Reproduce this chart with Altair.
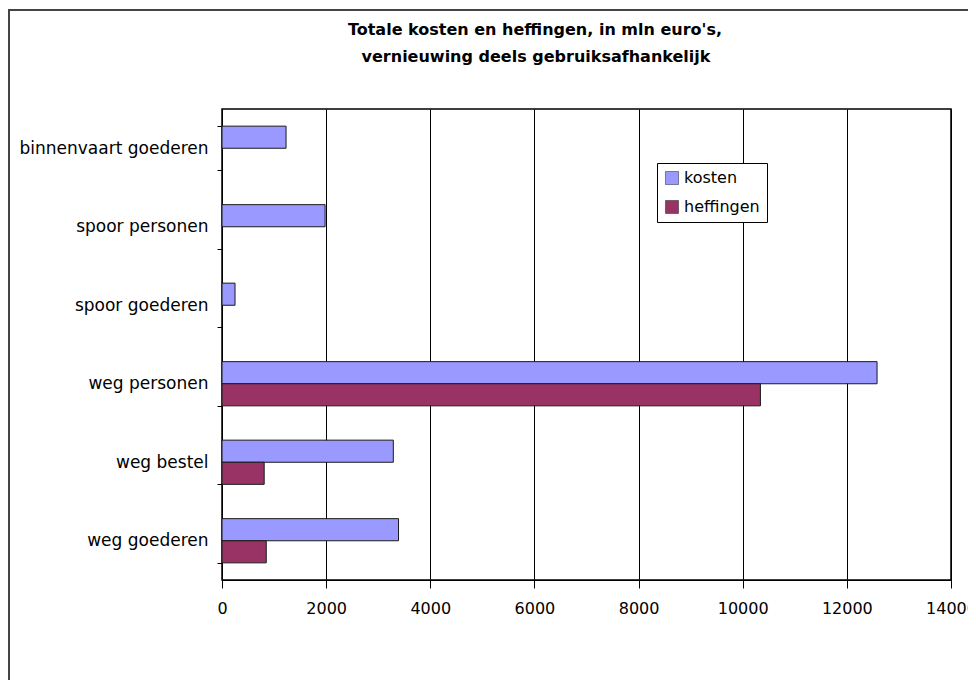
import altair as alt
import pandas as pd

# ---- data ----
categories = ["binnenvaart goederen", "spoor personen", "spoor goederen",
              "weg personen", "weg bestel", "weg goederen"]
series = ["kosten", "heffingen"]
kosten = [1230, 1980, 250, 12580, 3290, 3390]
heffingen = [None, None, None, 10340, 810, 850]
colors = ["#9999FF", "#993366"]
x_ticks = [0, 2000, 4000, 6000, 8000, 10000, 12000, 14000]
title_lines = ["Totale kosten en heffingen, in mln euro's,",
               "vernieuwing deels gebruiksafhankelijk"]

rows = []
for c, k, h in zip(categories, kosten, heffingen):
    rows.append({"categorie": c, "reeks": "kosten", "waarde": k})
    if h is not None:
        rows.append({"categorie": c, "reeks": "heffingen", "waarde": h})
df = pd.DataFrame(rows)

FONT = "DejaVu Sans"
one = pd.DataFrame({"a": [0]})

bars = alt.Chart(df).mark_bar(stroke="#1a1a1a", strokeWidth=1).encode(
    y=alt.Y("categorie:N", sort=categories,
            scale=alt.Scale(paddingInner=0.437, paddingOuter=0.2185),
            axis=alt.Axis(title=None, tickBand="extent", tickSize=5,
                          tickColor="black", domainColor="black",
                          labelFontSize=17, labelFont=FONT, labelColor="black",
                          labelPadding=9, labelLimit=260, grid=False)),
    x=alt.X("waarde:Q", scale=alt.Scale(domain=[0, 14000], nice=False),
            axis=alt.Axis(title=None, values=x_ticks, grid=True,
                          gridColor="black", gridOpacity=1, gridWidth=1,
                          tickSize=8, tickColor="black", domainColor="black",
                          labelFontSize=16, labelFont=FONT, labelColor="black",
                          labelPadding=12, labelFlush=False, labelOverlap=False,
                          format="d")),
    yOffset=alt.YOffset("reeks:N", sort=series),
    color=alt.Color("reeks:N", sort=series,
                    scale=alt.Scale(domain=series, range=colors),
                    legend=alt.Legend(title=None, orient="none",
                                      legendX=435, legendY=54,
                                      strokeColor="black", fillColor="white",
                                      padding=7, rowPadding=13,
                                      symbolType="square", symbolSize=170,
                                      symbolStrokeColor="#222",
                                      symbolStrokeWidth=0.5,
                                      labelFont=FONT, labelFontSize=16,
                                      labelColor="black")),
)

frame = alt.Chart(one).mark_rect(
    fill="white", fillOpacity=0, stroke="#444", strokeWidth=2
).encode(
    x=alt.value(-213), x2=alt.value(800),
    y=alt.value(-99), y2=alt.value(700),
)

title1 = alt.Chart(one).mark_text(
    text=title_lines[0], font=FONT, fontSize=16, fontWeight="bold",
    color="black", align="center", baseline="middle"
).encode(x=alt.value(313), y=alt.value(-79))

title2 = alt.Chart(one).mark_text(
    text=title_lines[1], font=FONT, fontSize=16, fontWeight="bold",
    color="black", align="center", baseline="middle"
).encode(x=alt.value(314), y=alt.value(-52))

chart = alt.layer(frame, title1, title2, bars).properties(
    width=729, height=471,
    autosize="none",
    background="white",
    padding={"left": 214, "top": 101, "right": 17, "bottom": 100},
).configure_view(stroke="black", strokeWidth=1.5)

chart.save("out.html", embed_options={"renderer": "svg", "actions": False})
